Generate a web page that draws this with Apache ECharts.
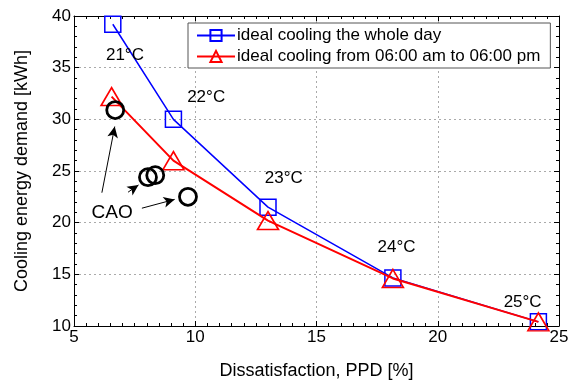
<!DOCTYPE html>
<html>
<head>
<meta charset="utf-8">
<script src="https://cdn.jsdelivr.net/npm/echarts@6/dist/echarts.min.js"></script>
<style>
html, body { margin: 0; padding: 0; background: #fff; }
#chart { width: 571px; height: 380px; }
</style>
</head>
<body>
<div id="chart"></div>
<script>
// 数据
let ppd_whole = [6.6, 9.1, 13.0, 18.15, 24.15];
let kwh_whole = [39.2, 30.0, 21.5, 14.65, 10.4];
let ppd_day = [6.55, 9.1, 13.0, 18.15, 24.15];
let kwh_day = [32.2, 26.0, 20.2, 14.6, 10.4];
let ppd_cao = [6.7, 8.05, 8.35, 9.7];
let kwh_cao = [30.9, 24.4, 24.6, 22.5];
let temp_text = ['21°C', '22°C', '23°C', '24°C', '25°C'];
let temp_x = [7.1, 10.45, 13.65, 18.3, 23.5];
let temp_y = [36.2, 32.1, 24.3, 17.6, 12.3];
// 箭头 起点/终点
let arrow_from = [[6.15, 22.9], [7.23, 22.95], [7.8, 21.4]];
let arrow_to = [[6.68, 29.3], [7.66, 23.65], [9.15, 22.25]];
let cao_pos = [6.57, 21.0];

let Chart_main = echarts.init(document.getElementById('chart'));

function pairs(xs, ys) {
    let out = [];
    for (let i = 0; i < xs.length; i++) out.push([xs[i], ys[i]]);
    return out;
}

let font = 'Liberation Sans, Arial, sans-serif';

let baseX = {
    type: 'value', min: 5, max: 25, interval: 5,
    axisLine: { show: true, onZero: false, lineStyle: { color: '#000', width: 1 } },
    axisTick: { show: true, inside: true, length: 5, lineStyle: { color: '#000' } },
    minorTick: { show: true, splitNumber: 10, length: 3, lineStyle: { color: '#000' } },
    axisLabel: { color: '#000', fontSize: 17, fontFamily: font, margin: 3 },
    splitLine: { show: true, lineStyle: { color: '#aaa', type: [2, 3], width: 1 } }
};
let baseY = {
    type: 'value', min: 10, max: 40, interval: 5,
    axisLine: { show: true, onZero: false, lineStyle: { color: '#000', width: 1 } },
    axisTick: { show: true, inside: true, length: 5, lineStyle: { color: '#000' } },
    minorTick: { show: true, splitNumber: 5, length: 3, lineStyle: { color: '#000' } },
    axisLabel: { color: '#000', fontSize: 17, fontFamily: font, margin: 3 },
    splitLine: { show: true, lineStyle: { color: '#aaa', type: [2, 3], width: 1 } }
};

let arrowLines = [];
for (let i = 0; i < arrow_from.length; i++) {
    arrowLines.push([{ coord: arrow_from[i] }, { coord: arrow_to[i] }]);
}

// 文字标注：温度 + CAO
let textMarks = [];
for (let i = 0; i < temp_text.length; i++) {
    textMarks.push({ coord: [temp_x[i], temp_y[i]], label: { formatter: temp_text[i], fontSize: 17 } });
}
textMarks.push({ coord: cao_pos, label: { formatter: 'CAO', fontSize: 19 } });

option = {
    animation: false,
    backgroundColor: '#fff',
    grid: { left: 74, right: 12, top: 16, bottom: 54, outerBoundsMode: 'none', containLabel: false },
    legend: {
        data: ['ideal cooling the whole day', 'ideal cooling from 06:00 am to 06:00 pm'],
        orient: 'vertical',
        left: 188, top: 23,
        padding: [4, 10, 3, 8],
        itemGap: 4,
        itemWidth: 38, itemHeight: 14,
        borderColor: '#555', borderWidth: 1,
        backgroundColor: '#fff',
        textStyle: { color: '#000', fontSize: 17, fontFamily: font, padding: [0, 0, 0, -3] }
    },
    xAxis: [
        Object.assign({}, baseX, {
            name: 'Dissatisfaction, PPD [%]', nameLocation: 'center', nameGap: 36,
            nameTextStyle: { color: '#000', fontSize: 18, fontFamily: font }
        }),
        Object.assign({}, baseX, { position: 'top', axisLabel: { show: false }, splitLine: { show: false } })
    ],
    yAxis: [
        Object.assign({}, baseY, {
            name: 'Cooling energy demand [kWh]', nameLocation: 'center', nameGap: 43,
            nameTextStyle: { color: '#000', fontSize: 18, fontFamily: font }
        }),
        Object.assign({}, baseY, { position: 'right', axisLabel: { show: false }, splitLine: { show: false } })
    ],
    series: [
        {
            name: 'ideal cooling the whole day',
            type: 'line',
            data: pairs(ppd_whole, kwh_whole),
            symbol: 'rect', symbolSize: 16,
            showAllSymbol: true,
            lineStyle: { color: '#0000ff', width: 1.5 },
            itemStyle: { color: 'rgba(0,0,0,0)', borderColor: '#0000ff', borderWidth: 1.5 },
            z: 3
        },
        {
            name: 'ideal cooling from 06:00 am to 06:00 pm',
            type: 'line',
            data: pairs(ppd_day, kwh_day),
            symbol: 'triangle', symbolSize: [21, 18],
            showAllSymbol: true,
            lineStyle: { color: '#ff0000', width: 2 },
            itemStyle: { color: 'rgba(0,0,0,0)', borderColor: '#ff0000', borderWidth: 1.6 },
            z: 4
        },
        {
            name: 'CAO',
            type: 'scatter',
            data: pairs(ppd_cao, kwh_cao),
            symbol: 'circle', symbolSize: 17,
            itemStyle: { color: 'rgba(0,0,0,0)', borderColor: '#000', borderWidth: 2.8, opacity: 1 },
            markLine: {
                silent: true,
                symbol: ['none', 'arrow'],
                symbolSize: [8, 11],
                label: { show: false },
                lineStyle: { color: '#000', width: 1, type: 'solid', opacity: 1 },
                data: arrowLines
            },
            markPoint: {
                silent: true,
                symbol: 'circle', symbolSize: 1,
                itemStyle: { color: 'rgba(0,0,0,0)' },
                label: { show: true, position: 'inside', color: '#000', fontFamily: font },
                data: textMarks
            },
            z: 5
        }
    ]
};

Chart_main.setOption(option);
</script>
</body>
</html>
